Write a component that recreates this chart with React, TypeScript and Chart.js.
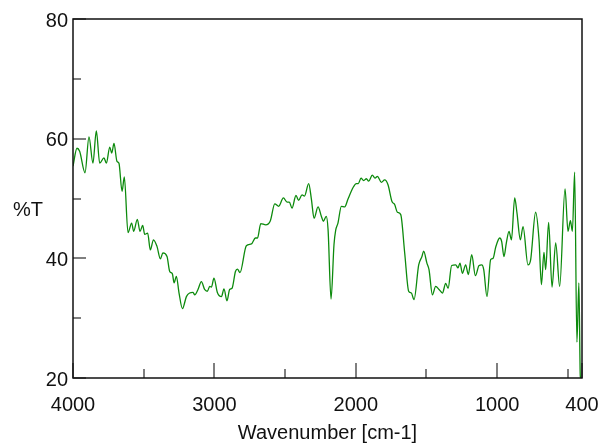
import React, { useEffect, useRef } from 'react';
import { Chart, registerables } from 'chart.js';

Chart.register(...registerables);

// Wavenumber (cm-1), descending
const wavenumbers = [
  4000, 3972, 3953, 3915, 3887, 3859, 3835, 3811, 3781, 3764, 3740, 3726, 3710, 3689, 3675, 3653, 3637,
  3611, 3585, 3571, 3545, 3526, 3507, 3493, 3472, 3453, 3431, 3406, 3382, 3364, 3335, 3316, 3297, 3285,
  3269, 3250, 3226, 3198, 3175, 3151, 3139, 3116, 3092, 3069, 3050, 3033, 3021, 3003, 2979, 2950, 2932,
  2911, 2892, 2875, 2851, 2837, 2819, 2774, 2738, 2710, 2695, 2672, 2637, 2604, 2573, 2545, 2512, 2486,
  2470, 2451, 2423, 2404, 2380, 2363, 2333, 2314, 2295, 2267, 2243, 2229, 2209, 2196, 2175, 2154, 2142,
  2126, 2102, 2078, 2055, 2020, 1996, 1982, 1963, 1944, 1925, 1909, 1883, 1864, 1847, 1819, 1796, 1772,
  1744, 1725, 1706, 1682, 1654, 1626, 1607, 1588, 1555, 1532, 1520, 1497, 1482, 1458, 1435, 1411, 1387,
  1364, 1347, 1322, 1293, 1277, 1263, 1246, 1223, 1204, 1180, 1154, 1128, 1109, 1095, 1072, 1046, 1029,
  1010, 982, 968, 952, 935, 916, 899, 876, 860, 836, 817, 782, 763, 728, 704, 687, 669, 657, 636, 612,
  586, 558, 520, 499, 482, 468, 452, 436, 422, 412, 400,
];

// Transmittance (%T)
const transmittance = [
  55.4, 58.4, 57.9, 54.3, 60.3, 55.9, 61.3, 55.9, 56.8, 55.9, 58.6, 57.6, 59.2, 56.2, 55.9, 51.2, 53.6,
  44.3, 45.9, 44.5, 46.5, 44.5, 45.5, 44.0, 44.2, 41.4, 43.1, 42.0, 39.9, 40.9, 40.3, 37.8, 37.4, 35.9,
  37.0, 34.2, 31.6, 33.6, 34.2, 34.3, 33.9, 34.8, 36.1, 34.8, 34.5, 35.3, 35.2, 36.7, 34.3, 33.6, 34.9,
  32.9, 34.8, 35.0, 37.8, 38.2, 37.6, 42.1, 42.4, 43.4, 43.4, 45.8, 45.6, 46.3, 49.1, 48.7, 50.1, 49.4,
  49.4, 48.4, 50.5, 49.7, 50.6, 50.4, 52.5, 49.9, 46.7, 48.6, 47.0, 46.2, 47.0, 44.8, 33.2, 42.3, 44.7,
  45.9, 48.7, 48.6, 49.9, 51.8, 52.5, 52.5, 53.4, 53.0, 53.3, 52.9, 53.9, 53.4, 53.7, 52.7, 53.1, 52.3,
  49.5, 49.0, 47.7, 47.3, 40.9, 34.5, 34.2, 33.1, 38.9, 40.3, 41.2, 39.2, 38.1, 33.9, 35.3, 34.8, 34.2,
  35.8, 35.0, 38.8, 38.9, 38.4, 39.2, 37.5, 38.9, 37.3, 40.6, 37.1, 38.8, 38.9, 38.1, 33.6, 39.8, 40.0,
  41.9, 43.4, 42.8, 40.3, 42.6, 44.5, 43.1, 50.1, 47.6, 43.1, 45.3, 38.9, 39.8, 47.7, 43.1, 35.6, 41.0, 38.1, 46.0, 35.2,
  42.6, 35.3, 51.6, 44.5, 46.3, 44.5, 54.4, 26.0, 35.9, 20.3, 19.5,
];

const xMajorTicks = [4000, 3000, 2000, 1000, 400];
const xMinorTicks = [3500, 2500, 1500, 500];
const yMajorTicks = [20, 40, 60, 80];
const yMinorTicks = [30, 50, 70];
const xTitle = 'Wavenumber [cm-1]';
const yTitle = '%T';

const FONT = '"Liberation Sans", Arial, sans-serif';

const framePlugin = {
  id: 'irFrame',
  afterDraw(chart: any) {
    const { ctx, chartArea: a, scales } = chart;
    const xs = scales.x;
    const ys = scales.y;
    const L = a.left, R = a.right, T = a.top, B = a.bottom;
    ctx.save();
    // inward tick marks
    ctx.strokeStyle = '#555';
    ctx.lineWidth = 1.5;
    ctx.beginPath();
    const xt = (v: number, len: number) => {
      const px = Math.round(xs.getPixelForValue(v));
      ctx.moveTo(px, B);
      ctx.lineTo(px, B - len);
    };
    const yt = (v: number, len: number) => {
      const py = Math.round(ys.getPixelForValue(v));
      ctx.moveTo(L, py);
      ctx.lineTo(L + len, py);
    };
    xMajorTicks.forEach((v) => xt(v, 15));
    xMinorTicks.forEach((v) => xt(v, 9));
    yMajorTicks.forEach((v) => yt(v, 13));
    yMinorTicks.forEach((v) => yt(v, 8));
    ctx.stroke();
    // frame
    ctx.strokeStyle = '#111';
    ctx.lineWidth = 1.5;
    ctx.strokeRect(L, T, R - L, B - T);
    // titles
    ctx.fillStyle = '#111';
    ctx.font = '20px ' + FONT;
    ctx.textAlign = 'center';
    ctx.textBaseline = 'middle';
    ctx.fillText(xTitle, (L + R) / 2, B + 55);
    ctx.fillText(yTitle, L - 45, ys.getPixelForValue(48));
    ctx.restore();
  },
};

export default function App() {
  const ref = useRef<HTMLCanvasElement | null>(null);

  useEffect(() => {
    if (!ref.current) return;
    const data = wavenumbers.map((w, i) => ({ x: w, y: transmittance[i] }));
    const chart = new Chart(ref.current, {
      type: 'line',
      data: {
        datasets: [
          {
            data,
            borderColor: '#0c8a0c',
            borderWidth: 1.3,
            pointRadius: 0,
            fill: false,
            cubicInterpolationMode: 'monotone',
          },
        ],
      },
      options: {
        animation: false,
        responsive: false,
        devicePixelRatio: 1,
        layout: { padding: { top: 19, right: 17, left: 0, bottom: 0 } },
        plugins: { legend: { display: false }, tooltip: { enabled: false }, title: { display: false } },
        scales: {
          x: {
            type: 'linear',
            reverse: true,
            min: 400,
            max: 4000,
            grid: { display: false, drawTicks: false },
            border: { display: false },
            afterBuildTicks: (s: any) => {
              s.ticks = xMajorTicks.map((v) => ({ value: v }));
            },
            afterFit: (s: any) => {
              s.height = 67;
              s.paddingLeft = 0;
              s.paddingRight = 0;
            },
            ticks: {
              padding: 15.5,
              maxRotation: 0,
              autoSkip: false,
              color: '#111',
              font: { family: FONT, size: 20 },
              callback: (v: any) => String(v),
            },
          },
          y: {
            type: 'linear',
            min: 20,
            max: 80,
            grid: { display: false, drawTicks: false },
            border: { display: false },
            afterBuildTicks: (s: any) => {
              s.ticks = yMajorTicks.map((v) => ({ value: v }));
            },
            afterFit: (s: any) => {
              s.width = 73;
              s.paddingTop = 0;
              s.paddingBottom = 0;
            },
            ticks: {
              padding: 5,
              labelOffset: 2,
              autoSkip: false,
              color: '#111',
              font: { family: FONT, size: 20 },
              callback: (v: any) => String(v),
            },
          },
        },
      },
      plugins: [framePlugin],
    });
    return () => chart.destroy();
  }, []);

  return (
    <div style={{ position: 'absolute', left: 0, top: 0, width: 599, height: 445, background: '#fff' }}>
      <canvas ref={ref} width={599} height={445} style={{ display: 'block' }} />
    </div>
  );
}
